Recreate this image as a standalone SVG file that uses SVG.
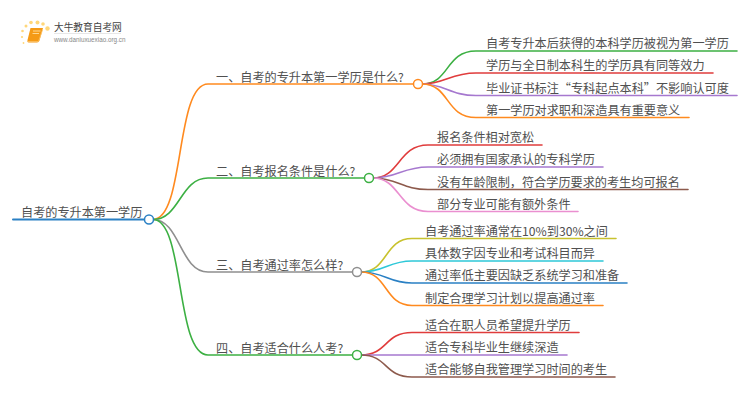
<svg xmlns="http://www.w3.org/2000/svg" width="750" height="410" viewBox="0 0 750 410">
<style>
text{font-family:"Noto Sans CJK SC","Liberation Sans",sans-serif;font-size:12.150px;fill:#505050}
.c{fill:none;stroke-width:1.600;stroke-linecap:round}
.n{fill:#fff;stroke-width:1.500}
.o{stroke:#ff8a1f}.g{stroke:#3cb043}.r{stroke:#e03c3c}.p{stroke:#a678cf}.b{stroke:#8d5a4c}.k{stroke:#ea8fd0}.a{stroke:#8f8f8f}.y{stroke:#c8c22e}.t{stroke:#2ec8d8}.u{stroke:#2a80c4}
.d{fill:#ffd77a}
</style>
<rect width="750" height="410" fill="#fff"/>
<g id="logo">
<circle class="d" cx="47.500" cy="28.500" r="2.200"/><circle class="d" cx="37.500" cy="22.500" r="2"/><circle class="d" cx="31" cy="22.500" r="1.800"/><circle class="d" cx="43" cy="24" r="1.800"/><circle class="d" cx="26" cy="26" r="1.500"/><circle class="d" cx="22.500" cy="31" r="1.300"/><circle class="d" cx="22" cy="37" r="1.100"/><circle class="d" cx="23.500" cy="43" r="0.900"/>
<path d="M30.500 28H43L39.500 40.500Q39 42.500 37 42.500H28.500Q27 42.500 27.500 40Z" fill="#f59a16"/>
<path d="M33 31H40.500M32.500 33.500H39" stroke="#ffd890" stroke-width="1" fill="none"/>
<path d="M27.500 41.500H38.500L42.500 30" stroke="#fbc46a" stroke-width="0.800" fill="none"/>
<text x="54" y="31" style="font-size:9.700px;fill:#444">大牛教育自考网</text>
<path d="M54 33.500H121" stroke="#ddd" stroke-width="0.700"/>
<text x="54" y="41.500" style="font-size:6.300px;fill:#888;font-family:'Liberation Sans',sans-serif">www.daniuxuexiao.org.cn</text>
</g>
<g id="connectors">
<path class="c u" style="stroke-width:2" d="M13 219.500H144"/>
<path class="c o" d="M153 219.500C185 219.500 175 84 208 84H413"/>
<path class="c g" d="M153 219.500C180 219.500 180 178 208 178H364"/>
<path class="c a" d="M153 219.500C180 219.500 180 272 208 272H352"/>
<path class="c g" d="M153 219.500C185 219.500 175 355 208 355H352"/>
<path class="c g" d="M422 84C450 84 445 51 476 51H737"/>
<path class="c r" d="M422 84C445 84 450 73 476 73H713"/>
<path class="c p" d="M422 84C445 84 450 95.500 476 95.500H737"/>
<path class="c o" d="M422 84C450 84 445 117.500 476 117.500H689"/>
<path class="c r" d="M373 178C400 178 398 145 428 145H542"/>
<path class="c p" d="M373 178C398 178 402 167 428 167H603"/>
<path class="c b" d="M373 178C398 178 402 189.500 428 189.500H688"/>
<path class="c k" d="M373 178C400 178 398 211.500 428 211.500H578"/>
<path class="c y" d="M361 272C388 272 384 238.500 412 238.500H616"/>
<path class="c t" d="M361 272C385 272 388 261 412 261H603"/>
<path class="c u" d="M361 272C385 272 388 283 412 283H627"/>
<path class="c o" d="M361 272C388 272 384 305.500 412 305.500H603"/>
<path class="c r" d="M361 355C388 355 384 332.500 412 332.500H579"/>
<path class="c p" d="M361 355H567"/>
<path class="c b" d="M361 355C388 355 384 377 412 377H615"/>
</g>
<g id="root"><text x="21" y="216.500">自考的专升本第一学历</text><circle class="n u" cx="149" cy="219.500" r="4.500"/></g>
<g id="b1"><text x="216" y="81.500">一、自考的专升本第一学历是什么?</text><circle class="n o" cx="418" cy="84" r="4.500"/></g>
<g id="b2"><text x="216" y="175.500">二、自考报名条件是什么?</text><circle class="n g" cx="369" cy="178" r="4.500"/></g>
<g id="b3"><text x="216" y="269.500">三、自考通过率怎么样?</text><circle class="n a" cx="357" cy="272" r="4.500"/></g>
<g id="b4"><text x="216" y="352.500">四、自考适合什么人考?</text><circle class="n g" cx="357" cy="355" r="4.500"/></g>
<g id="l11"><text x="486" y="47.500">自考专升本后获得的本科学历被视为第一学历</text></g>
<g id="l12"><text x="486" y="70">学历与全日制本科生的学历具有同等效力</text></g>
<g id="l13"><text x="486" y="92.500">毕业证书标注“专科起点本科”不影响认可度</text></g>
<g id="l14"><text x="486" y="114.500">第一学历对求职和深造具有重要意义</text></g>
<g id="l21"><text x="437" y="142">报名条件相对宽松</text></g>
<g id="l22"><text x="437" y="164">必须拥有国家承认的专科学历</text></g>
<g id="l23"><text x="437" y="186.500">没有年龄限制&#xFF0C;符合学历要求的考生均可报名</text></g>
<g id="l24"><text x="437" y="208.500">部分专业可能有额外条件</text></g>
<g id="l31"><text x="425" y="235.500">自考通过率通常在10%到30%之间</text></g>
<g id="l32"><text x="425" y="258">具体数字因专业和考试科目而异</text></g>
<g id="l33"><text x="425" y="280">通过率低主要因缺乏系统学习和准备</text></g>
<g id="l34"><text x="425" y="302.500">制定合理学习计划以提高通过率</text></g>
<g id="l41"><text x="425" y="329.500">适合在职人员希望提升学历</text></g>
<g id="l42"><text x="425" y="352">适合专科毕业生继续深造</text></g>
<g id="l43"><text x="425" y="374">适合能够自我管理学习时间的考生</text></g>
</svg>
